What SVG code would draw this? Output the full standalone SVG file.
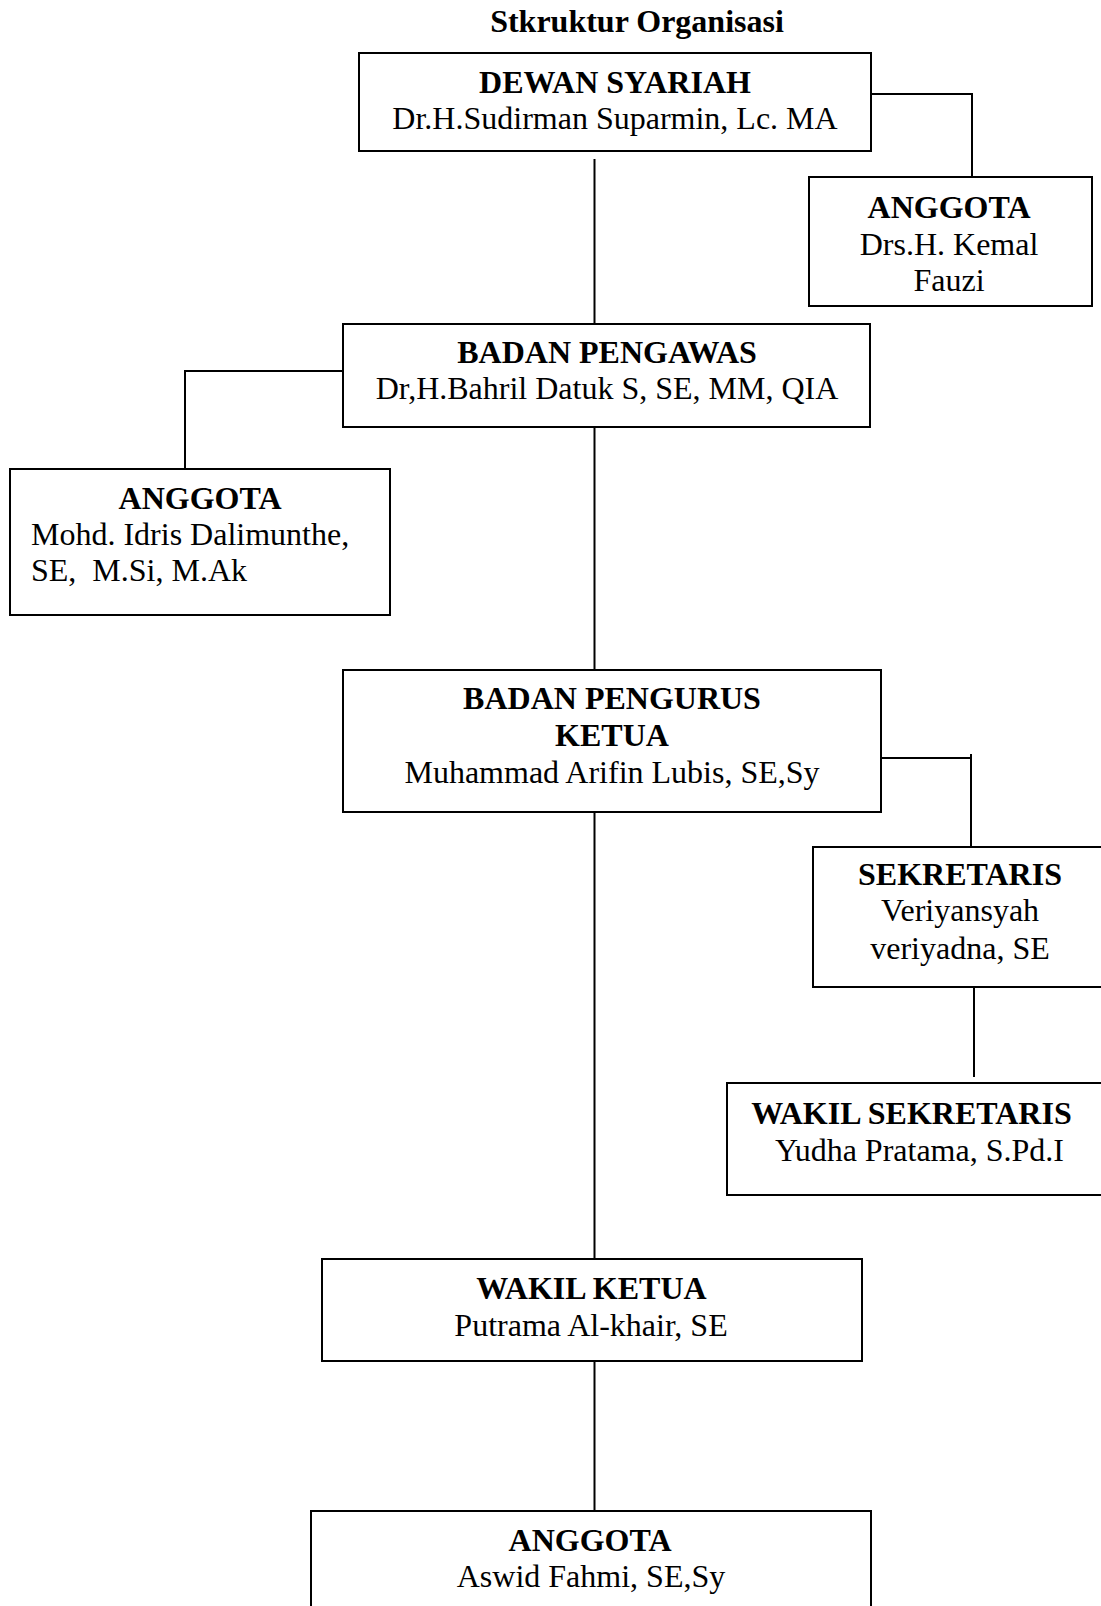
<svg xmlns="http://www.w3.org/2000/svg" width="1101" height="1606" viewBox="0 0 1101 1606">
<style>
.box{fill:#fff;stroke:#000;stroke-width:2}
.ln{fill:none;stroke:#000;stroke-width:2}
text{font-family:"Liberation Serif","Times New Roman",serif;font-size:32px;fill:#000}
.b{font-weight:bold}
.m{text-anchor:middle}
</style>
<rect width="1101" height="1606" fill="#fff"/>
<text id="title" class="b m" x="637" y="32">Stkruktur Organisasi</text>
<g id="connectors">
<line class="ln" x1="594.5" y1="159" x2="594.5" y2="324"/>
<line class="ln" x1="594.5" y1="427" x2="594.5" y2="670"/>
<line class="ln" x1="594.5" y1="812" x2="594.5" y2="1259"/>
<line class="ln" x1="594.5" y1="1361" x2="594.5" y2="1511"/>
<polyline class="ln" points="871,94 972,94 972,177"/>
<polyline class="ln" points="343,371 185,371 185,469"/>
<polyline class="ln" points="881,758 971,758"/>
<line class="ln" x1="971" y1="754" x2="971" y2="847"/>
<line class="ln" x1="974" y1="987" x2="974" y2="1077"/>
</g>
<g id="dewan-syariah">
<rect class="box" x="359" y="53" width="512" height="98"/>
<text class="b m" x="615" y="93">DEWAN SYARIAH</text>
<text class="m" x="615" y="129">Dr.H.Sudirman Suparmin, Lc. MA</text>
</g>
<g id="anggota-dewan">
<rect class="box" x="809" y="177" width="283" height="129"/>
<text class="b m" x="949" y="218">ANGGOTA</text>
<text class="m" x="949" y="255">Drs.H. Kemal</text>
<text class="m" x="949" y="291">Fauzi</text>
</g>
<g id="badan-pengawas">
<rect class="box" x="343" y="324" width="527" height="103"/>
<text class="b m" x="607" y="363">BADAN PENGAWAS</text>
<text class="m" x="607" y="399">Dr,H.Bahril Datuk S, SE, MM, QIA</text>
</g>
<g id="anggota-pengawas">
<rect class="box" x="10" y="469" width="380" height="146"/>
<text class="b m" x="200" y="509">ANGGOTA</text>
<text x="31" y="545">Mohd. Idris Dalimunthe,</text>
<text x="31" y="581" xml:space="preserve">SE,  M.Si, M.Ak</text>
</g>
<g id="badan-pengurus">
<rect class="box" x="343" y="670" width="538" height="142"/>
<text class="b m" x="612" y="709">BADAN PENGURUS</text>
<text class="b m" x="612" y="746">KETUA</text>
<text class="m" x="612" y="783">Muhammad Arifin Lubis, SE,Sy</text>
</g>
<g id="sekretaris">
<rect class="box" x="813" y="847" width="292" height="140"/>
<text class="b m" x="960" y="885">SEKRETARIS</text>
<text class="m" x="960" y="921">Veriyansyah</text>
<text class="m" x="960" y="959">veriyadna, SE</text>
</g>
<g id="wakil-sekretaris">
<rect class="box" x="727" y="1083" width="378" height="112"/>
<text class="b m" x="911.5" y="1124">WAKIL SEKRETARIS</text>
<text class="m" x="919.5" y="1161">Yudha Pratama, S.Pd.I</text>
</g>
<g id="wakil-ketua">
<rect class="box" x="322" y="1259" width="540" height="102"/>
<text class="b m" x="591.5" y="1299">WAKIL KETUA</text>
<text class="m" x="591" y="1336">Putrama Al-khair, SE</text>
</g>
<g id="anggota-pengurus">
<rect class="box" x="311" y="1511" width="560" height="110"/>
<text class="b m" x="590" y="1551">ANGGOTA</text>
<text class="m" x="591" y="1587">Aswid Fahmi, SE,Sy</text>
</g>
</svg>
